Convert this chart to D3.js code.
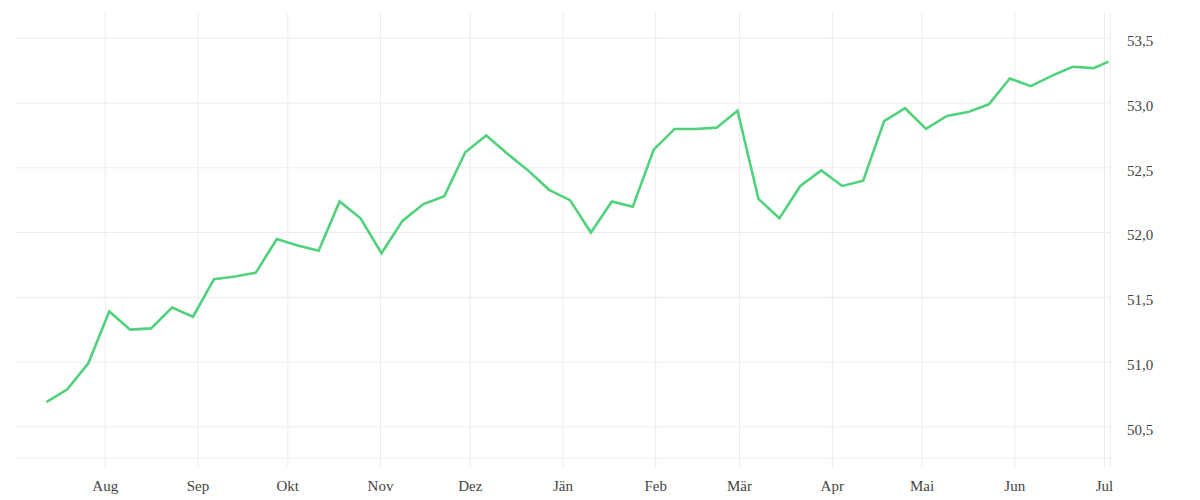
<!DOCTYPE html>
<html>
<head>
<meta charset="utf-8">
<script src="https://cdn.jsdelivr.net/npm/d3@7"></script>
<style>
  html, body { margin: 0; padding: 0; background: #fff; }
  svg text { font-family: "Liberation Serif", serif; font-size: 15px; fill: #444; }
</style>
</head>
<body>
<svg id="chart" width="1200" height="500"></svg>
<script>
// weekly readings, last one is a partial week
const dates = [
  "2022-07-12", "2022-07-19", "2022-07-26", "2022-08-02", "2022-08-09", "2022-08-16",
  "2022-08-23", "2022-08-30", "2022-09-06", "2022-09-13", "2022-09-20", "2022-09-27",
  "2022-10-04", "2022-10-11", "2022-10-18", "2022-10-25", "2022-11-01", "2022-11-08",
  "2022-11-15", "2022-11-22", "2022-11-29", "2022-12-06", "2022-12-13", "2022-12-20",
  "2022-12-27", "2023-01-03", "2023-01-10", "2023-01-17", "2023-01-24", "2023-01-31",
  "2023-02-07", "2023-02-14", "2023-02-21", "2023-02-28", "2023-03-07", "2023-03-14",
  "2023-03-21", "2023-03-28", "2023-04-04", "2023-04-11", "2023-04-18", "2023-04-25",
  "2023-05-02", "2023-05-09", "2023-05-16", "2023-05-23", "2023-05-30", "2023-06-06",
  "2023-06-13", "2023-06-20", "2023-06-27", "2023-07-02"
];
const values = [
  50.69, 50.79, 50.99, 51.39, 51.25, 51.26, 51.42, 51.35, 51.64, 51.66, 51.69, 51.95,
  51.90, 51.86, 52.24, 52.11, 51.84, 52.09, 52.22, 52.28, 52.62, 52.75, 52.61, 52.48,
  52.33, 52.25, 52.00, 52.24, 52.20, 52.64, 52.80, 52.80, 52.81, 52.94, 52.26, 52.11,
  52.36, 52.48, 52.36, 52.40, 52.86, 52.96, 52.80, 52.90, 52.93, 52.99, 53.19, 53.13,
  53.21, 53.28, 53.27, 53.32
];
const yTicks = [50.5, 51.0, 51.5, 52.0, 52.5, 53.0, 53.5];
const monthLabels = ["Jän", "Feb", "Mär", "Apr", "Mai", "Jun", "Jul", "Aug", "Sep", "Okt", "Nov", "Dez"];

const svg = d3.select('#chart');
const plotLeft = 15, plotRight = 1110, plotTop = 12, plotBottom = 458;
const parseDay = d3.timeParse("%Y-%m-%d");

const data = dates.map((d, i) => ({ date: d3.timeHour.offset(parseDay(d), 12), value: values[i] }));

const x = d3.scaleTime()
    .domain([parseDay("2022-07-02"), parseDay("2023-07-03")])
    .range([plotLeft, plotRight]);
const y = d3.scaleLinear()
    .domain([50.259, 53.703])
    .range([plotBottom, plotTop]);

const de = d3.formatLocale({ decimal: ",", thousands: ".", grouping: [3], currency: ["", " €"] });
const fmt = de.format(".1f");

// horizontal grid
svg.append('g')
    .selectAll('line')
    .data(yTicks)
    .enter()
    .append('line')
    .attr('x1', plotLeft).attr('x2', plotRight)
    .attr('y1', d => y(d)).attr('y2', d => y(d))
    .attr('stroke', '#ececec');

// bottom border
svg.append('line')
    .attr('x1', plotLeft).attr('x2', plotRight)
    .attr('y1', plotBottom).attr('y2', plotBottom)
    .attr('stroke', '#ececec');

// x axis: month gridlines reaching a bit below the plot
const xAxis = d3.axisBottom(x)
    .ticks(d3.timeMonth.every(1))
    .tickFormat(d => monthLabels[d.getMonth()])
    .tickSize(-(plotBottom - plotTop) - 10)
    .tickPadding(0);
const gx = svg.append('g')
    .attr('transform', 'translate(0,' + (plotBottom + 10) + ')')
    .call(xAxis);
gx.select('.domain').remove();
gx.selectAll('.tick line').attr('stroke', '#ececec');
gx.selectAll('.tick text')
    .attr('y', 0)
    .attr('dy', '22.5')
    .attr('fill', '#444');

// right border
svg.append('line')
    .attr('x1', plotRight).attr('x2', plotRight)
    .attr('y1', plotTop).attr('y2', plotBottom + 10)
    .attr('stroke', '#ececec');

// y axis labels on the right
const yAxis = d3.axisRight(y)
    .tickValues(yTicks)
    .tickFormat(fmt)
    .tickSize(0)
    .tickPadding(0);
const gy = svg.append('g')
    .attr('transform', 'translate(' + 1127 + ',0)')
    .call(yAxis);
gy.select('.domain').remove();
gy.selectAll('.tick text')
    .attr('dy', '7.4')
    .attr('fill', '#444');

// the series
const line = d3.line()
    .x(d => x(d.date))
    .y(d => y(d.value));
svg.append('path')
    .datum(data)
    .attr('d', line)
    .attr('fill', 'none')
    .attr('stroke', '#4fd27b')
    .attr('stroke-width', 2.6)
    .attr('stroke-linejoin', 'miter');
</script>
</body>
</html>
